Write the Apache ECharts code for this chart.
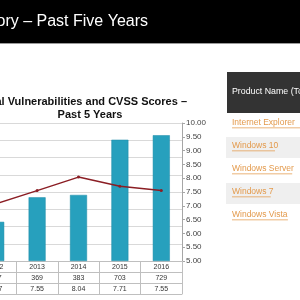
<!DOCTYPE html>
<html>
<head>
<meta charset="utf-8">
<script src="https://cdn.jsdelivr.net/npm/echarts@6/dist/echarts.min.js"></script>
<style>
  html, body { margin: 0; padding: 0; background: #fff; }
  #chart { width: 300px; height: 300px; }
</style>
</head>
<body>
<div id="chart"></div>
<script>
// values
const years = ["2012", "2013", "2014", "2015", "2016"];
const vulnCounts = [227, 369, 383, 703, 729];
const cvssScores = [7.07, 7.55, 8.04, 7.71, 7.55];
const products = ["Internet Explorer", "Windows 10", "Windows Server", "Windows 7", "Windows Vista"];

const myChart = echarts.init(document.getElementById("chart"));
const gray = "#bfbfbf";
const font = "Liberation Sans, Arial, sans-serif";

// right side table rows (decoration)
const side = [];
products.forEach((p, i) => {
  const y = 113 + i * 23;
  if (i % 2 === 1) {
    side.push({ type: "rect", shape: { x: 226, y: y + 1, width: 80, height: 21 }, style: { fill: "#efefef" } });
  }
  side.push({
    type: "text", x: 232, y: y + 10,
    style: { text: p, fill: "#e39a4c", font: "8.5px " + font, verticalAlign: "middle" }
  });
  side.push({ type: "rect", shape: { x: 232, y: y + 14.5, width: p.length * 4.3, height: 0.7 }, style: { fill: "#e39a4c" } });
});

option = {
  animation: false,
  textStyle: { fontFamily: font },
  title: [
    {
      text: "Total Vulnerabilities and CVSS Scores –",
      right: 108, top: 91,
      textStyle: { fontSize: 11, fontWeight: "bold", color: "#111" }
    },
    {
      text: "Past 5 Years",
      left: 85, top: 104, textAlign: "center",
      textStyle: { fontSize: 11, fontWeight: "bold", color: "#111" }
    }
  ],
  graphic: [
    { type: "rect", shape: { x: 0, y: 0, width: 300, height: 43 }, style: { fill: "#000" } },
    { type: "rect", shape: { x: 0, y: 43, width: 300, height: 1 }, style: { fill: "#9a9a9a" } },
    {
      type: "text", x: 148, y: 22,
      style: { text: "Microsoft Vulnerability History – Past Five Years", fill: "#fff", font: "16px " + font, align: "right", verticalAlign: "middle" }
    },
    { type: "rect", shape: { x: 227, y: 72, width: 80, height: 41 }, style: { fill: "#333" } },
    {
      type: "text", x: 232, y: 92,
      style: { text: "Product Name (Top 5)", fill: "#fff", font: "8.8px " + font, verticalAlign: "middle" }
    }
  ].concat(side),
  grid: { left: -25, width: 207, top: 123, bottom: 39, outerBoundsMode: "none", containLabel: false },
  xAxis: [
    {
      type: "category", data: years, position: "bottom",
      axisLine: { lineStyle: { color: gray } },
      axisTick: { show: true, length: 33, interval: 0, lineStyle: { color: gray } },
      axisLabel: { fontSize: 7, color: "#333", margin: 3, interval: 0 }
    },
    {
      type: "category", data: vulnCounts.map(String), position: "bottom", offset: 11,
      axisLine: { lineStyle: { color: gray } }, axisTick: { show: false },
      axisLabel: { fontSize: 7, color: "#333", margin: 3, interval: 0 }
    },
    {
      type: "category", data: cvssScores.map(v => v.toFixed(2)), position: "bottom", offset: 22,
      axisLine: { lineStyle: { color: gray } }, axisTick: { show: false },
      axisLabel: { fontSize: 7, color: "#333", margin: 3, interval: 0 }
    },
    {
      type: "category", data: years, position: "bottom", offset: 33,
      axisLine: { lineStyle: { color: gray } }, axisTick: { show: false },
      axisLabel: { show: false }
    }
  ],
  yAxis: [
    {
      type: "value", min: 0, max: 800, interval: 100,
      axisLabel: { show: false },
      splitLine: { lineStyle: { color: "#d9d9d9" } }
    },
    {
      type: "value", min: 5, max: 10, interval: 0.5, position: "right",
      axisLine: { show: true, lineStyle: { color: "#a6a6a6" } },
      axisTick: { show: true, length: 3, lineStyle: { color: "#a6a6a6" } },
      axisLabel: { fontSize: 8, color: "#444", margin: 4, formatter: v => v.toFixed(2) },
      splitLine: { show: false }
    }
  ],
  series: [
    {
      name: "Vulnerabilities", type: "bar", data: vulnCounts, barWidth: 17,
      itemStyle: { color: "#27a0bd", borderColor: "#1d8aa6", borderWidth: 0.5 }
    },
    {
      name: "CVSS", type: "line", yAxisIndex: 1, data: cvssScores,
      symbol: "circle", symbolSize: 3,
      lineStyle: { color: "#8b1e24", width: 1.5 },
      itemStyle: { color: "#8b1e24" }
    }
  ]
};
option && myChart.setOption(option);
</script>
</body>
</html>
